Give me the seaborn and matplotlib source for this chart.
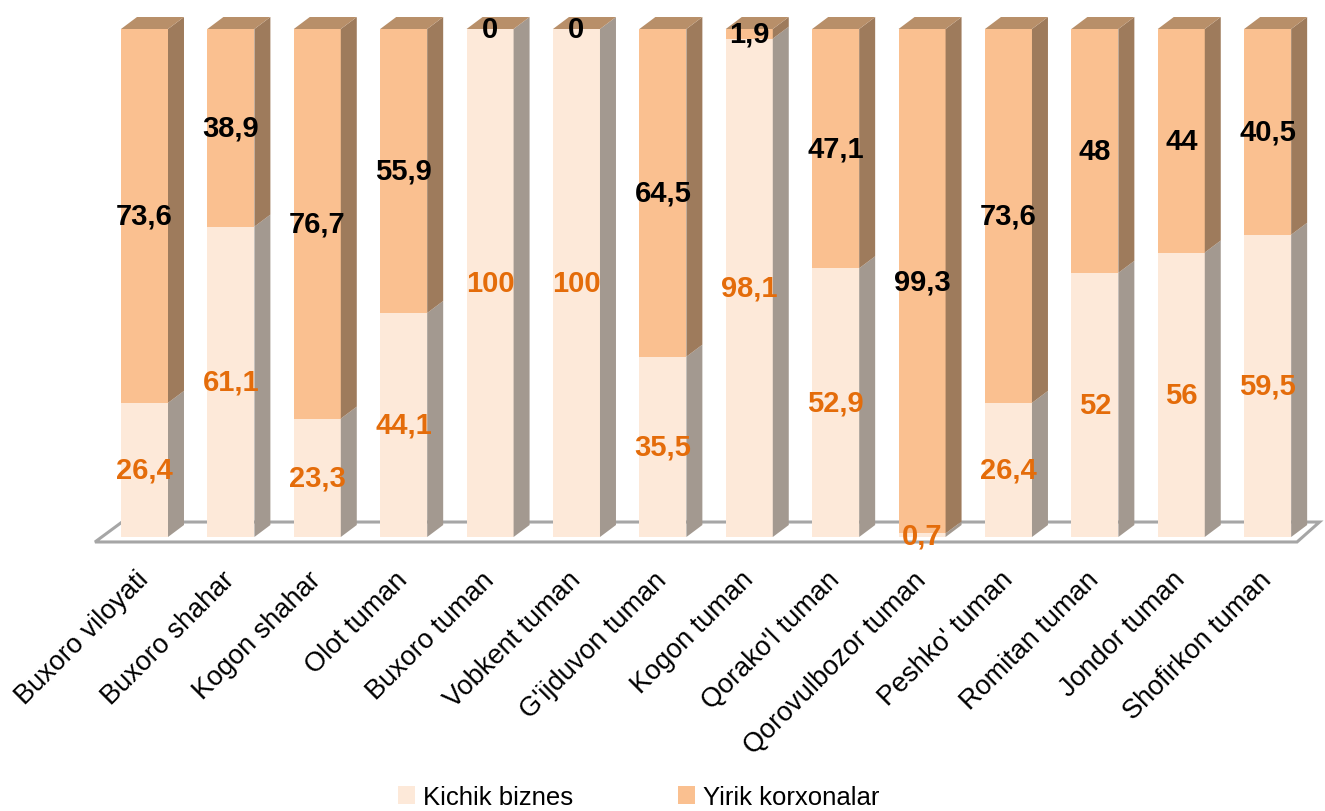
import numpy as np
import pandas as pd
import matplotlib
matplotlib.use('Agg')
import matplotlib.pyplot as plt
import matplotlib.transforms as mtransforms
import seaborn as sns
from matplotlib.patches import Polygon, Patch

districts = ['Buxoro viloyati', 'Buxoro shahar', 'Kogon shahar', 'Olot tuman',
             'Buxoro tuman', 'Vobkent tuman', "G'ijduvon tuman", 'Kogon tuman',
             "Qorako'l tuman", 'Qorovulbozor tuman', "Peshko' tuman",
             'Romitan tuman', 'Jondor tuman', 'Shofirkon tuman']
kichik = [26.4, 61.1, 23.3, 44.1, 100, 100, 35.5, 98.1, 52.9, 0.7, 26.4, 52, 56, 59.5]
yirik = [73.6, 38.9, 76.7, 55.9, 0, 0, 64.5, 1.9, 47.1, 99.3, 73.6, 48, 44, 40.5]

fmt = lambda v: f'{v:g}'.replace('.', ',')

light = '#FDE9D9'
orange = '#FAC090'
light_side = '#A39990'
orange_side = '#9E7B5C'
top_col = '#B88F69'
lab_orange = '#E46C0A'

sns.set_style('white')
plt.rcParams['font.family'] = ['Liberation Sans', 'DejaVu Sans']

df = pd.DataFrame({'tuman': districts, 'kichik': kichik, 'yirik': yirik})
df['total'] = df['kichik'] + df['yirik']

fig = plt.figure(figsize=(13.25, 8.12), dpi=100)
ax = fig.add_axes([95 / 1325, (812 - 538) / 812, 1215 / 1325, 508 / 812])

w = 0.544
sns.barplot(data=df, x='tuman', y='total', color=orange, width=w, ax=ax,
            saturation=1, edgecolor='none', linewidth=0, zorder=2)
sns.barplot(data=df, x='tuman', y='kichik', color=light, width=w, ax=ax,
            saturation=1, edgecolor='none', linewidth=0, zorder=2)

ax.set_xlim(-0.573, 13.49)
ax.set_ylim(0, 100)

# 3D depth offsets in data units
dx, dy = 0.185, 2.36

# floor
floor = Polygon([(-0.573, -0.98), (13.34, -0.98), (13.6, 2.95), (-0.26, 2.95)],
                closed=True, facecolor='white', edgecolor='#A6A6A6', lw=2.2,
                clip_on=False, zorder=1)
ax.add_patch(floor)

for i in range(len(districts)):
    x0 = i - w / 2
    x1 = i + w / 2
    k = kichik[i]
    t = kichik[i] + yirik[i]
    # side faces
    ax.add_patch(Polygon([(x1, 0), (x1 + dx, dy), (x1 + dx, k + dy), (x1, k)],
                         facecolor=light_side, edgecolor='none', clip_on=False, zorder=2))
    ax.add_patch(Polygon([(x1, k), (x1 + dx, k + dy), (x1 + dx, t + dy), (x1, t)],
                         facecolor=orange_side, edgecolor='none', clip_on=False, zorder=2))
    # top face
    ax.add_patch(Polygon([(x0, t), (x0 + dx, t + dy), (x1 + dx, t + dy), (x1, t)],
                         facecolor=top_col, edgecolor='none', clip_on=False, zorder=2))
    # labels
    ax.text(i, k / 2, fmt(kichik[i]), ha='center', va='center', fontsize=21,
            fontweight='bold', color=lab_orange, zorder=5, clip_on=False)
    ax.text(i, k + yirik[i] / 2, fmt(yirik[i]), ha='center', va='center', fontsize=21,
            fontweight='bold', color='black', zorder=5, clip_on=False)

ax.set_xlabel('')
ax.set_ylabel('')
ax.set_yticks([])
ax.set_xticks(range(len(districts)))
ax.set_xticklabels(districts, rotation=45, ha='right', rotation_mode='anchor',
                   fontsize=19.5, color='black')
ax.tick_params(axis='x', length=0, pad=21)
shift = mtransforms.ScaledTranslation(-0.09, 0, fig.dpi_scale_trans)
for lab in ax.get_xticklabels():
    lab.set_transform(lab.get_transform() + shift)
sns.despine(ax=ax, left=True, bottom=True)

handles = [Patch(facecolor=light, edgecolor='none'), Patch(facecolor=orange, edgecolor='none')]
fig.legend(handles, ['Kichik biznes', 'Yirik korxonalar'], loc='lower center',
           bbox_to_anchor=(0.482, -0.026), ncol=2, frameon=False, fontsize=18.5,
           labelcolor='black', handlelength=0.65, handleheight=0.65,
           handletextpad=0.3, columnspacing=4.1)

fig.savefig('out.png', dpi=100)
